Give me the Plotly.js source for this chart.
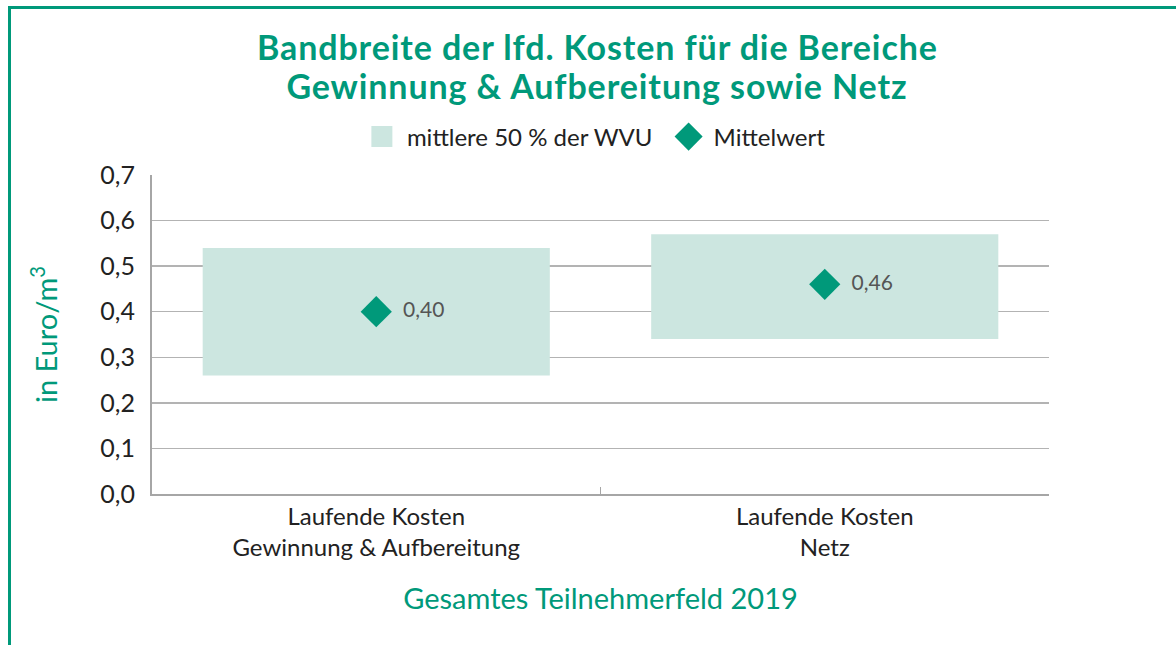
<!DOCTYPE html>
<html>
<head>
<meta charset="utf-8">
<script src="https://cdn.plot.ly/plotly-3.0.1.min.js"></script>
<style>
  html, body { margin: 0; padding: 0; background: #fff; }
  #frame { position: absolute; left: 8px; top: 6px; width: 1168px; height: 700px;
           border-left: 3px solid #00997a; border-top: 3px solid #00997a; box-sizing: border-box; }
  #chart { position: absolute; left: 0; top: 0; width: 1176px; height: 645px; }
  #chart .gtitle, #chart .annotation-text { letter-spacing: 0.9px; }
</style>
</head>
<body>
<div id="frame"></div>
<div id="chart"></div>
<script>
const categories = ["Laufende Kosten<br>Gewinnung & Aufbereitung", "Laufende Kosten<br>Netz"];
const lowerQuartile = [0.26, 0.34];
const upperQuartile = [0.54, 0.57];
const meanValues = [0.40, 0.46];
const yTickValues = [0, 0.1, 0.2, 0.3, 0.4, 0.5, 0.6, 0.7];
const titleLines = ["Bandbreite der lfd. Kosten für die Bereiche", "Gewinnung & Aufbereitung sowie Netz"];

const teal = "#00997a";
const boxColor = "#cce6e0";
const fontFamily = "Lato, sans-serif";

const traces = [
  {
    type: "bar",
    name: "mittlere 50 % der WVU\u00a0",
    x: categories,
    y: upperQuartile.map((u, i) => u - lowerQuartile[i]),
    base: lowerQuartile,
    width: 0.774,
    marker: { color: boxColor, line: { width: 0 } },
    hoverinfo: "skip"
  },
  {
    type: "scatter",
    mode: "markers+text",
    name: "Mittelwert",
    x: categories,
    y: meanValues,
    marker: { symbol: "diamond", size: 24, color: teal },
    texttemplate: "  %{y:.2f}",
    textposition: "middle right",
    textfont: { family: fontFamily, size: 21, color: "#555555" },
    cliponaxis: false
  }
];

const layout = {
  width: 1176,
  height: 645,
  paper_bgcolor: "rgba(0,0,0,0)",
  plot_bgcolor: "rgba(0,0,0,0)",
  separators: ", ",
  margin: { l: 152, r: 127, t: 175, b: 151 },
  font: { family: fontFamily, color: "#222222" },
  title: {
    text: "<b>" + titleLines[0] + "</b>",
    font: { family: fontFamily, size: 34, color: teal },
    x: 0.508, xanchor: "center", xref: "container",
    y: 1 - 48 / 645, yanchor: "middle", yref: "container"
  },
  annotations: [
    {
      text: "<b>" + titleLines[1] + "</b>",
      font: { family: fontFamily, size: 34, color: teal },
      xref: "paper", yref: "paper",
      x: (597 - 152) / 897, y: (494 - 85) / 319,
      xanchor: "center", yanchor: "middle",
      showarrow: false
    }
  ],
  showlegend: true,
  legend: {
    orientation: "h",
    itemwidth: 40,
    x: 0.505, xanchor: "center", xref: "container",
    y: 1 - 137 / 645, yanchor: "middle", yref: "container",
    font: { family: fontFamily, size: 24, color: "#222222" },
    traceorder: "normal",
    itemclick: false
  },
  xaxis: {
    type: "category",
    showgrid: false,
    showline: true,
    linecolor: "#a6a6a6",
    linewidth: 2,
    ticks: "inside",
    tickson: "boundaries",
    ticklen: 7,
    tickcolor: "#a6a6a6",
    tickwidth: 1.5,
    tickfont: { family: fontFamily, size: 24, color: "#222222" },
    title: {
      text: "Gesamtes Teilnehmerfeld 2019",
      font: { family: fontFamily, size: 29, color: teal },
      standoff: 29
    },
    fixedrange: true
  },
  yaxis: {
    range: [0, 0.7],
    tickvals: yTickValues,
    tickformat: ".1f",
    showgrid: true,
    gridcolor: "#b3b3b3",
    gridwidth: 1.5,
    zeroline: false,
    showline: true,
    linecolor: "#a6a6a6",
    linewidth: 2,
    ticks: "",
    ticklabelstandoff: 10,
    tickfont: { family: fontFamily, size: 25, color: "#222222" },
    title: {
      text: "in Euro/m<sup>3</sup>",
      font: { family: fontFamily, size: 29, color: teal },
      standoff: 34
    },
    fixedrange: true
  }
};

Plotly.newPlot("chart", traces, layout, { displayModeBar: false, staticPlot: true }).then(function (gd) {
  // enlarge the legend symbols to the size used in the original graphic
  const scales = [1.75, 1.35];
  gd.querySelectorAll(".legend .traces").forEach(function (g, i) {
    const pts = g.querySelector(".legendpoints");
    if (!pts) return;
    const s = scales[i] || 1;
    pts.querySelectorAll("path").forEach(function (p) {
      const t = p.getAttribute("transform") || "";
      p.setAttribute("transform", t + " scale(" + s + ")");
    });
  });
});
</script>
</body>
</html>
